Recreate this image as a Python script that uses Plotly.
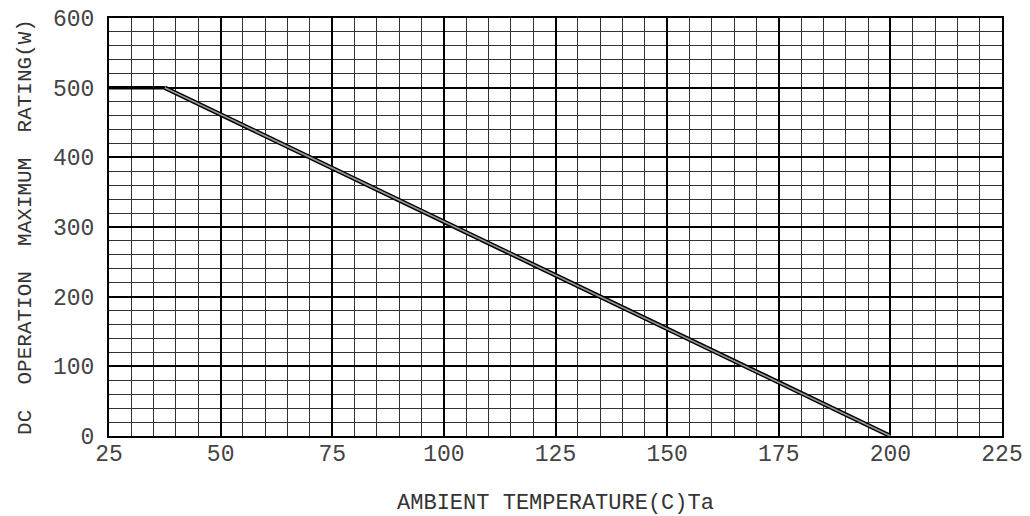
import plotly.graph_objects as go

# Derating curve: DC operation maximum rating vs ambient temperature
temp_c = [25, 37.5, 200]
power_w = [500, 500, 0]

x_ticks = [25, 50, 75, 100, 125, 150, 175, 200, 225]
y_ticks = [0, 100, 200, 300, 400, 500, 600]

TICK_FONT = dict(family="Liberation Mono", size=23, color="#444")
X_TITLE_FONT = dict(family="Liberation Mono", size=22, color="#333")
Y_TITLE_FONT = dict(family="Liberation Mono", size=21, color="#333")

fig = go.Figure()

# flat part: solid heavy line
fig.add_trace(go.Scatter(x=temp_c[:2], y=power_w[:2], mode="lines",
                         line=dict(color="black", width=3.5), showlegend=False))
# sloped part: double-stroke line
fig.add_trace(go.Scatter(x=temp_c[1:], y=power_w[1:], mode="lines",
                         line=dict(color="black", width=4.5), showlegend=False))
fig.add_trace(go.Scatter(x=temp_c[1:], y=power_w[1:], mode="lines",
                         line=dict(color="#9a9a9a", width=1.6), showlegend=False))

fig.update_layout(
    width=1030, height=516,
    margin=dict(l=109, r=28, t=18, b=80),
    paper_bgcolor="white", plot_bgcolor="white",
    font=TICK_FONT,
    xaxis=dict(
        range=[25, 225], tickvals=x_ticks, ticktext=[str(v) for v in x_ticks],
        tickfont=TICK_FONT, automargin=False,
        showgrid=True, gridcolor="black", gridwidth=2,
        minor=dict(dtick=5, tick0=25, showgrid=True, gridcolor="#333", gridwidth=1),
        showline=True, linecolor="black", linewidth=2, mirror=True,
        zeroline=False, ticks="", ticklen=0, ticklabelstandoff=-5,
        title=dict(text="AMBIENT TEMPERATURE(C)Ta", standoff=38, font=X_TITLE_FONT),
    ),
    yaxis=dict(
        range=[0, 600], tickvals=y_ticks, ticktext=[str(v) for v in y_ticks],
        tickfont=TICK_FONT, automargin=False,
        showgrid=True, gridcolor="black", gridwidth=2,
        minor=dict(dtick=20, tick0=0, showgrid=True, gridcolor="#333", gridwidth=1),
        showline=True, linecolor="black", linewidth=2, mirror=True,
        zeroline=False, ticks="", ticklen=0, ticklabelstandoff=8,
        title=dict(text="DC  OPERATION  MAXIMUM  RATING(W)", standoff=16, font=Y_TITLE_FONT),
    ),
)

fig.write_html("out.html")
